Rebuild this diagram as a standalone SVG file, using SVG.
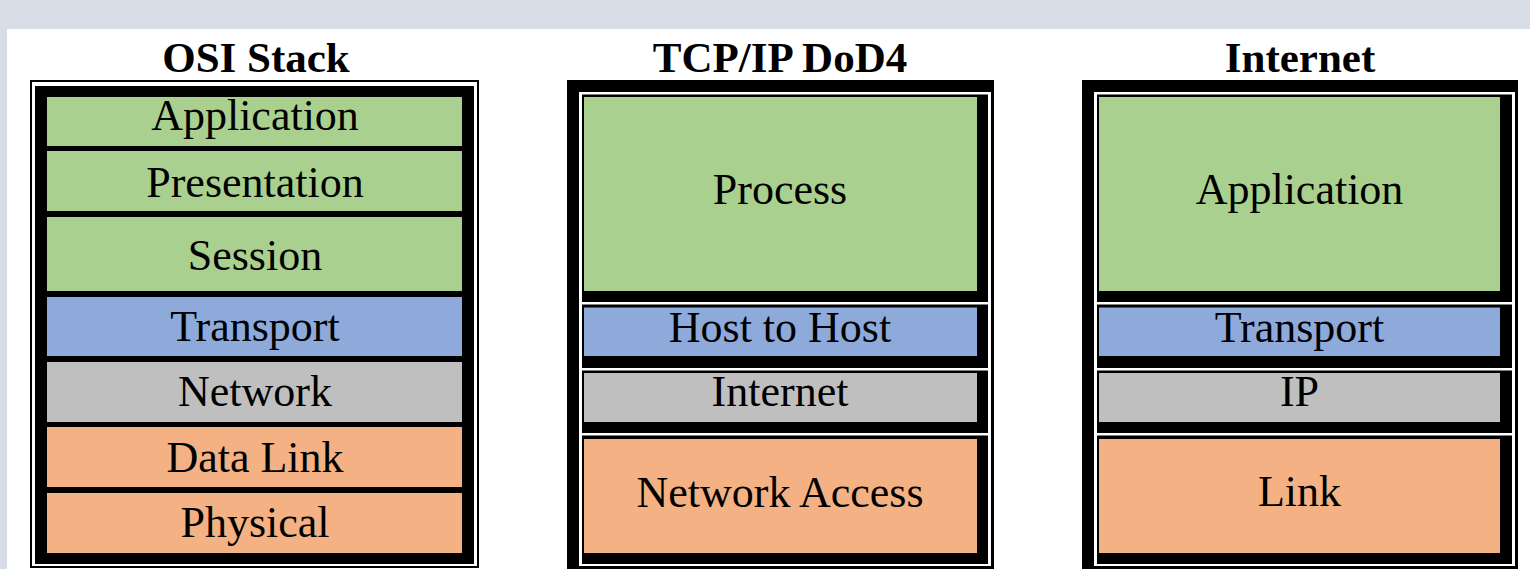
<svg xmlns="http://www.w3.org/2000/svg" width="1530" height="569" viewBox="0 0 1530 569">
<style>
.t{font-family:"Liberation Serif","Times New Roman",serif;font-size:44px;fill:#000;text-anchor:middle}
.h{font-family:"Liberation Serif","Times New Roman",serif;font-size:43px;font-weight:bold;fill:#000;text-anchor:middle}
.blk{fill:#000}
.wht{fill:#fff}
.g{fill:#a9d08e}
.b{fill:#8eaadb}
.s{fill:#bfbfbf}
.o{fill:#f4b183}
</style>
<rect x="0" y="0" width="1530" height="569" fill="#d8dce6"/>
<rect x="7" y="29" width="1523" height="540" fill="#fff"/>

<g id="osi">
  <text class="h" x="256" y="71.5">OSI Stack</text>
  <rect x="31" y="81" width="447" height="486" fill="none" stroke="#000" stroke-width="2"/>
  <rect class="blk" x="35" y="86" width="439" height="478"/>
  <g id="osi-application"><rect class="g" x="47" y="97" width="415" height="49"/><text class="t" x="255" y="130">Application</text></g>
  <g id="osi-presentation"><rect class="g" x="47" y="151" width="415" height="60"/><text class="t" x="255" y="197">Presentation</text></g>
  <g id="osi-session"><rect class="g" x="47" y="217" width="415" height="74"/><text class="t" x="255" y="270">Session</text></g>
  <g id="osi-transport"><rect class="b" x="47" y="297" width="415" height="59"/><text class="t" x="255" y="341">Transport</text></g>
  <g id="osi-network"><rect class="s" x="47" y="362" width="415" height="60"/><text class="t" x="255" y="406">Network</text></g>
  <g id="osi-datalink"><rect class="o" x="47" y="427" width="415" height="60"/><text class="t" x="255" y="472">Data Link</text></g>
  <g id="osi-physical"><rect class="o" x="47" y="493" width="415" height="60"/><text class="t" x="255" y="537">Physical</text></g>
</g>

<g id="tcpip">
  <text class="h" x="780" y="71.5">TCP/IP DoD4</text>
  <rect class="blk" x="567" y="80" width="427" height="489"/>
  <rect class="wht" x="579" y="92" width="412" height="474"/>
  <rect class="blk" x="582" y="94.5" width="406" height="207.5"/>
  <rect class="blk" x="582" y="304.5" width="406" height="63.5"/>
  <rect class="blk" x="582" y="370.5" width="406" height="62.5"/>
  <rect class="blk" x="582" y="435.5" width="406" height="128.5"/>
  <g id="tcp-process"><rect class="g" x="584" y="97" width="393" height="194"/><text class="t" x="780" y="204">Process</text></g>
  <g id="tcp-hosttohost"><rect class="b" x="584" y="307.5" width="393" height="48.5"/><text class="t" x="780" y="342">Host to Host</text></g>
  <g id="tcp-internet"><rect class="s" x="584" y="373" width="393" height="49"/><text class="t" x="780" y="406">Internet</text></g>
  <g id="tcp-networkaccess"><rect class="o" x="584" y="439" width="393" height="114"/><text class="t" x="780" y="507">Network Access</text></g>
</g>

<g id="internet">
  <text class="h" x="1300" y="71.5">Internet</text>
  <rect class="blk" x="1082" y="80" width="436" height="489"/>
  <rect class="wht" x="1094" y="92" width="421" height="474"/>
  <rect class="blk" x="1097" y="94.5" width="415" height="207.5"/>
  <rect class="blk" x="1097" y="304.5" width="415" height="63.5"/>
  <rect class="blk" x="1097" y="370.5" width="415" height="62.5"/>
  <rect class="blk" x="1097" y="435.5" width="415" height="128.5"/>
  <g id="inet-application"><rect class="g" x="1099" y="97" width="401" height="194"/><text class="t" x="1299.5" y="204">Application</text></g>
  <g id="inet-transport"><rect class="b" x="1099" y="307.5" width="401" height="48.5"/><text class="t" x="1299.5" y="342">Transport</text></g>
  <g id="inet-ip"><rect class="s" x="1099" y="373" width="401" height="49"/><text class="t" x="1299.5" y="406">IP</text></g>
  <g id="inet-link"><rect class="o" x="1099" y="439" width="401" height="114"/><text class="t" x="1299.5" y="506">Link</text></g>
</g>
</svg>
